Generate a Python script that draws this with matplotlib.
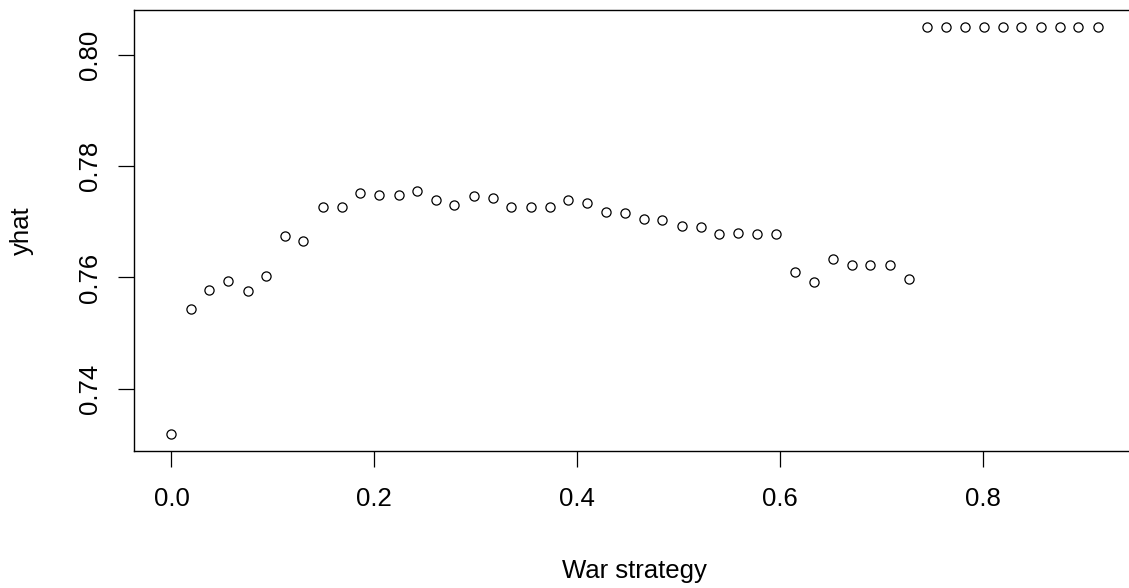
import matplotlib
matplotlib.use("Agg")
import matplotlib.pyplot as plt
from matplotlib.ticker import FixedLocator, FormatStrFormatter

plt.rcParams["font.family"] = ["Liberation Sans", "DejaVu Sans"]

# War strategy share (x) and fitted values (yhat)
war_strategy = [
    0.000, 0.019, 0.037, 0.056, 0.075, 0.093, 0.112, 0.130, 0.149, 0.168,
    0.186, 0.205, 0.224, 0.242, 0.261, 0.279, 0.298, 0.317, 0.335, 0.354,
    0.373, 0.391, 0.410, 0.428, 0.447, 0.466, 0.484, 0.503, 0.522, 0.540,
    0.559, 0.577, 0.596, 0.615, 0.633, 0.652, 0.671, 0.689, 0.708, 0.727,
    0.745, 0.764, 0.782, 0.801, 0.820, 0.838, 0.857, 0.876, 0.894, 0.913,
]
yhat = [
    0.7318, 0.7544, 0.7578, 0.7594, 0.7575, 0.7603, 0.7674, 0.7665, 0.7727, 0.7727,
    0.7752, 0.7749, 0.7749, 0.7755, 0.7740, 0.7731, 0.7746, 0.7742, 0.7727, 0.7727,
    0.7727, 0.7739, 0.7734, 0.7718, 0.7715, 0.7705, 0.7703, 0.7693, 0.7690, 0.7678,
    0.7680, 0.7678, 0.7678, 0.7609, 0.7591, 0.7634, 0.7622, 0.7622, 0.7622, 0.7597,
    0.8051, 0.8051, 0.8051, 0.8051, 0.8051, 0.8051, 0.8051, 0.8051, 0.8051, 0.8051,
]
x_ticks = [0.0, 0.2, 0.4, 0.6, 0.8]
y_ticks = [0.74, 0.76, 0.78, 0.80]

W, H = 1129, 588
FS = 18.5
fig = plt.figure(figsize=(W / 100, H / 100), dpi=100)
# plot region in pixels: left 134.4, right 1134.6, top 10.3, bottom 450.6
ax = fig.add_axes([134.4 / W, (H - 450.6) / H, 1000.2 / W, 440.3 / H])

ax.plot(war_strategy, yhat, linestyle="none", marker="o", markersize=6.6,
        markerfacecolor="none", markeredgecolor="black", markeredgewidth=0.9)
ax.margins(x=0.04, y=0.04)

for s in ax.spines.values():
    s.set_linewidth(1.0)
    s.set_color("black")

ax.xaxis.set_major_locator(FixedLocator(x_ticks))
ax.yaxis.set_major_locator(FixedLocator(y_ticks))
ax.xaxis.set_major_formatter(FormatStrFormatter("%.1f"))
ax.yaxis.set_major_formatter(FormatStrFormatter("%.2f"))
ax.tick_params(axis="both", direction="out", length=11.5, width=0.9,
               labelsize=FS, colors="black")
ax.tick_params(axis="x", pad=15)
ax.tick_params(axis="y", pad=12)
for lab in ax.get_yticklabels():
    lab.set_rotation(90)
    lab.set_va("center")
    lab.set_ha("right")

fig.text(634.5 / W, 1 - 578 / H, "War strategy", ha="center", va="baseline",
         fontsize=FS, color="black")
fig.text(22 / W, 1 - 231 / H, "yhat", ha="center", va="center",
         rotation=90, fontsize=FS, color="black")

fig.savefig("out.png", dpi=100, facecolor="white")
